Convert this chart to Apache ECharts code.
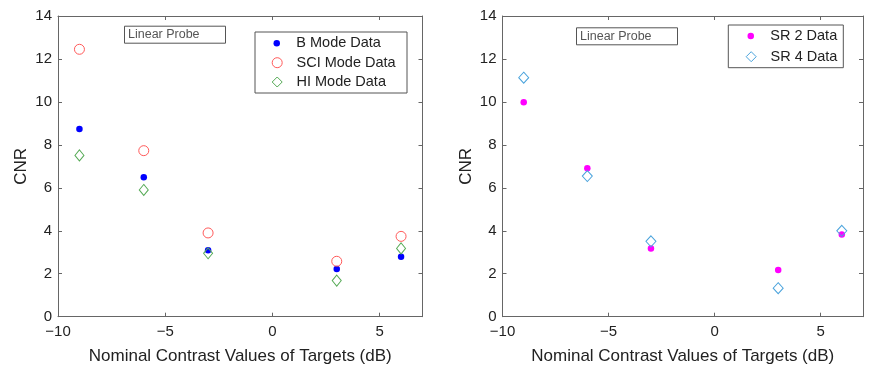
<!DOCTYPE html>
<html>
<head>
<meta charset="utf-8">
<script src="https://cdn.jsdelivr.net/npm/echarts@6/dist/echarts.min.js"></script>
<style>
  html, body { margin: 0; padding: 0; background: #fff; }
  #chart { width: 873px; height: 371px; }
</style>
</head>
<body>
<div id="chart"></div>
<script>
// Nominal target contrasts (dB)
const contrasts = [-9, -6, -3, 3, 6];

// Left panel: CNR per imaging mode
const bModeCNR   = [8.74, 6.49, 3.09, 2.22, 2.79];
const sciModeCNR = [12.45, 7.73, 3.90, 2.58, 3.74];
const hiModeCNR  = [7.51, 5.90, 2.95, 1.68, 3.18];

// Right panel: CNR per SR setting
const sr2CNR = [9.98, 6.91, 3.17, 2.17, 3.83];
const sr4CNR = [11.13, 6.55, 3.51, 1.33, 4.00];

const xTicks = { min: -10, max: 7, interval: 5 };
const yTicks = { min: 0, max: 14, interval: 2 };

const FONT = '"Liberation Sans", Arial, sans-serif';
const AXIS_COLOR = '#666';
const TEXT_COLOR = '#222';

const pairs = vals => contrasts.map((c, i) => [c, vals[i]]);
const fmtX = v => (v === xTicks.max ? '' : (v < 0 ? '\u2212' + (-v) : String(v)));

function axisPair(gridIndex, kind) {
  const base = kind === 'x' ? xTicks : yTicks;
  const main = {
    type: 'value', gridIndex, min: base.min, max: base.max, interval: base.interval,
    position: kind === 'x' ? 'bottom' : 'left',
    axisLine: { show: true, onZero: false, lineStyle: { color: AXIS_COLOR, width: 1 } },
    axisTick: { show: true, inside: true, length: 4, lineStyle: { color: AXIS_COLOR } },
    splitLine: { show: false },
    axisLabel: {
      color: TEXT_COLOR, fontFamily: FONT, fontSize: 15,
      margin: kind === 'x' ? 8 : 6,
      showMaxLabel: kind === 'y',
      formatter: kind === 'x' ? fmtX : (v => String(v))
    },
    name: kind === 'x' ? 'Nominal Contrast Values of Targets (dB)' : 'CNR',
    nameLocation: 'middle',
    nameGap: kind === 'x' ? 31 : 28,
    nameTextStyle: { color: TEXT_COLOR, fontFamily: FONT, fontSize: 17 }
  };
  const mirror = {
    type: 'value', gridIndex, min: base.min, max: base.max, interval: base.interval,
    position: kind === 'x' ? 'top' : 'right',
    axisLine: { show: true, onZero: false, lineStyle: { color: AXIS_COLOR, width: 1 } },
    axisTick: { show: true, inside: true, length: 4, lineStyle: { color: AXIS_COLOR } },
    axisLabel: { show: false },
    splitLine: { show: false }
  };
  return [main, mirror];
}

function legendItem(name, left, cy, size, padLeft, itemStyle) {
  return {
    orient: 'vertical', left, top: cy - 8, padding: 0,
    itemWidth: size, itemHeight: size,
    data: [{ name, icon: itemStyle.icon }],
    itemStyle: itemStyle.style,
    selectedMode: false,
    textStyle: { color: TEXT_COLOR, fontFamily: FONT, fontSize: 14.5, lineHeight: 16, padding: [0, 0, 0, padLeft] }
  };
}

function probeLabel(left, top) {
  return {
    text: 'Linear Probe', left, top,
    padding: [2, 26, 2, 4],
    borderColor: '#555', borderWidth: 1,
    textStyle: { color: '#555', fontFamily: FONT, fontSize: 12.5, fontWeight: 'normal', lineHeight: 14 }
  };
}

const BLUE = '#0000ff', RED = '#ff5a5a', GREEN = '#55aa55', MAGENTA = '#ff00ff', LBLUE = '#4aa3dc';

const option = {
  animation: false,
  backgroundColor: '#fff',
  grid: [
    { left: 58, top: 16, width: 364.5, height: 300.7 },
    { left: 502.5, top: 16, width: 360.5, height: 300.7 }
  ],
  xAxis: [...axisPair(0, 'x'), ...axisPair(1, 'x')],
  yAxis: [...axisPair(0, 'y'), ...axisPair(1, 'y')],
  title: [probeLabel(124, 25.7), probeLabel(576, 27.3)],
  legend: [
    legendItem('B Mode Data', 273.5, 43.3, 6.5, 11.3, { icon: 'circle', style: { color: BLUE, borderWidth: 0 } }),
    legendItem('SCI Mode Data', 271.7, 62.7, 10, 9.3, { icon: 'circle', style: { color: 'transparent', borderColor: RED, borderWidth: 1 } }),
    legendItem('HI Mode Data', 271.7, 82, 10, 9.3, { icon: 'diamond', style: { color: 'transparent', borderColor: GREEN, borderWidth: 1 } }),
    legendItem('SR 2 Data', 747.5, 36, 6.5, 11.3, { icon: 'circle', style: { color: MAGENTA, borderWidth: 0 } }),
    legendItem('SR 4 Data', 745.7, 56.7, 10, 9.3, { icon: 'diamond', style: { color: 'transparent', borderColor: LBLUE, borderWidth: 1 } })
  ],
  graphic: [
    { type: 'rect', shape: { x: 255, y: 32, width: 152, height: 61 }, style: { fill: '#fff', stroke: '#555', lineWidth: 1 }, z: 0 },
    { type: 'rect', shape: { x: 728.3, y: 25, width: 115, height: 42.7 }, style: { fill: '#fff', stroke: '#555', lineWidth: 1 }, z: 0 }
  ],
  series: [
    { name: 'B Mode Data', type: 'scatter', xAxisIndex: 0, yAxisIndex: 0, data: pairs(bModeCNR),
      symbol: 'circle', symbolSize: 6.5, itemStyle: { color: BLUE, opacity: 1 } },
    { name: 'SCI Mode Data', type: 'scatter', xAxisIndex: 0, yAxisIndex: 0, data: pairs(sciModeCNR),
      symbol: 'circle', symbolSize: 10, itemStyle: { color: 'transparent', borderColor: RED, borderWidth: 1, opacity: 1 } },
    { name: 'HI Mode Data', type: 'scatter', xAxisIndex: 0, yAxisIndex: 0, data: pairs(hiModeCNR),
      symbol: 'diamond', symbolSize: [9, 11], itemStyle: { color: 'transparent', borderColor: GREEN, borderWidth: 1, opacity: 1 } },
    { name: 'SR 2 Data', type: 'scatter', xAxisIndex: 2, yAxisIndex: 2, data: pairs(sr2CNR),
      symbol: 'circle', symbolSize: 6.5, itemStyle: { color: MAGENTA, opacity: 1 } },
    { name: 'SR 4 Data', type: 'scatter', xAxisIndex: 2, yAxisIndex: 2, data: pairs(sr4CNR),
      symbol: 'diamond', symbolSize: [10, 11], itemStyle: { color: 'transparent', borderColor: LBLUE, borderWidth: 1, opacity: 1 } }
  ]
};

const chart = echarts.init(document.getElementById('chart'), null, { renderer: 'canvas' });
chart.setOption(option);
</script>
</body>
</html>
